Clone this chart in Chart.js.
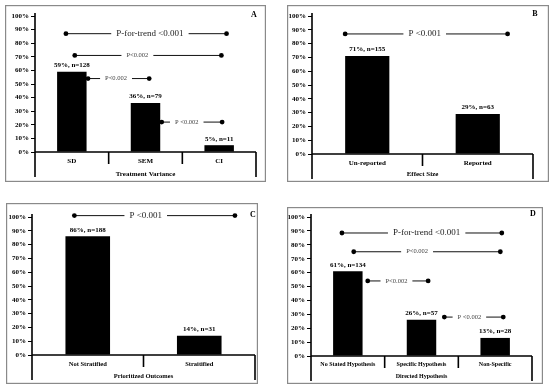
<!DOCTYPE html>
<html lang="en">
<head>
<meta charset="utf-8">
<title>Reporting panels</title>
<script src="https://cdn.jsdelivr.net/npm/chart.js@4.4.1/dist/chart.umd.min.js"></script>
<style>
  body { margin: 0; background: #fff; }
  canvas { position: absolute; }
</style>
</head>
<body>
<canvas id="pa"></canvas>
<canvas id="pb"></canvas>
<canvas id="pc"></canvas>
<canvas id="pd"></canvas>
<script>
// data
const catA = ['SD', 'SEM', 'CI'];
const pctA = [59, 36, 5];
const nA = [128, 79, 11];

const catB = ['Un-reported', 'Reported'];
const pctB = [71, 29];
const nB = [155, 63];

const catC = ['Not Stratified', 'Straitified'];
const pctC = [86, 14];
const nC = [188, 31];

const catD = ['No Stated Hypothesis', 'Specific Hypothesis', 'Non-Specific'];
const pctD = [61, 26, 13];
const nD = [134, 57, 28];

// comparisons: [from category, to category, level %, label, label centre]
const cmpA = [
  [-0.08, 2.10, 87, 'P-for-trend <0.001', 1.06],
  [0.04, 2.03, 71, 'P<0.002', 0.89],
  [0.22, 1.05, 54, 'P<0.002', 0.60],
  [1.22, 2.04, 22, 'P <0.002', 1.56]
];
const cmpB = [[-0.20, 1.27, 87, 'P <0.001', 0.52]];
const cmpC = [[-0.12, 1.32, 101, 'P <0.001', 0.52]];
const cmpD = [
  [-0.08, 2.09, 88.5, 'P-for-trend <0.001', 1.07],
  [0.08, 2.07, 75, 'P<0.002', 0.94],
  [0.27, 1.09, 54, 'P<0.002', 0.66],
  [1.31, 2.11, 28, 'P <0.002', 1.65]
];

const SERIF = '"Liberation Serif", "Times New Roman", serif';

function panel(id, box, area, letter, letterPos, title, labSize, cats, pcts, ns, cmps) {
  const cv = document.getElementById(id);
  const w = box.r - box.l, h = box.b - box.t;
  cv.width = w; cv.height = h;
  cv.style.left = box.l + 'px';
  cv.style.top = box.t + 'px';

  const deco = {
    id: 'deco',
    afterDraw(chart) {
      const c = chart.ctx, a = chart.chartArea;
      const xs = chart.scales.x, ys = chart.scales.y;
      c.save();
      // frame
      c.strokeStyle = '#8a8a8a';
      c.lineWidth = 1.2;
      c.strokeRect(0.6, 0.6, w - 1.2, h - 1.2);

      // axes
      c.strokeStyle = '#000';
      c.lineWidth = 1.6;
      c.beginPath();
      c.moveTo(a.left, a.top - 3);
      c.lineTo(a.left, a.bottom + 25);
      c.moveTo(a.left, a.bottom);
      c.lineTo(a.right, a.bottom);
      c.moveTo(a.right, a.bottom);
      c.lineTo(a.right, a.bottom + 25);
      for (let i = 1; i < cats.length; i++) {
        const x = xs.getPixelForValue(i - 0.5);
        c.moveTo(x, a.bottom);
        c.lineTo(x, a.bottom + 12);
      }
      c.stroke();

      // bar labels
      c.fillStyle = '#000';
      c.font = 'bold 7px ' + SERIF;
      c.textAlign = 'center';
      c.textBaseline = 'bottom';
      chart.getDatasetMeta(0).data.forEach((bar, i) => {
        c.fillText(pcts[i] + '%, n=' + ns[i], bar.x, bar.y - 3);
      });

      // comparison brackets
      c.textBaseline = 'middle';
      c.lineWidth = 1;
      cmps.forEach(([f, t, lvl, txt, mid]) => {
        const big = txt.indexOf('0.001') >= 0;
        const x1 = xs.getPixelForValue(f), x2 = xs.getPixelForValue(t);
        const xm = xs.getPixelForValue(mid);
        const y = ys.getPixelForValue(lvl);
        c.font = (big ? 9 : 6.5) + 'px ' + SERIF;
        c.fillStyle = big ? '#222' : '#444';
        const tw = c.measureText(txt).width;
        c.fillText(txt, xm, y);
        c.strokeStyle = '#111';
        c.beginPath();
        c.moveTo(x1, y); c.lineTo(xm - tw / 2 - 5, y);
        c.moveTo(xm + tw / 2 + 5, y); c.lineTo(x2, y);
        c.stroke();
        c.fillStyle = '#000';
        [x1, x2].forEach(x => {
          c.beginPath();
          c.arc(x, y, 2.4, 0, Math.PI * 2);
          c.fill();
        });
      });

      // panel letter
      c.font = 'bold 8px ' + SERIF;
      c.textBaseline = 'middle';
      c.fillText(letter, letterPos[0], letterPos[1]);
      c.restore();
    }
  };

  return new Chart(cv.getContext('2d'), {
    type: 'bar',
    data: {
      labels: cats,
      datasets: [{
        data: pcts,
        backgroundColor: '#000',
        borderWidth: 0,
        barPercentage: 0.4,
        categoryPercentage: 1
      }]
    },
    options: {
      responsive: false,
      animation: false,
      layout: { padding: { top: area.t - box.t, right: box.r - area.r, left: 0, bottom: 0 } },
      plugins: { legend: { display: false }, tooltip: { enabled: false } },
      scales: {
        x: {
          offset: true,
          grid: { display: false, drawTicks: false },
          border: { display: false },
          ticks: {
            color: '#000', padding: 5, maxRotation: 0, autoSkip: false,
            font: { family: SERIF, size: labSize, weight: 'bold' }
          },
          title: {
            display: true, text: title, color: '#000',
            padding: { top: 0, bottom: 4 },
            font: { family: SERIF, size: labSize, weight: 'bold' }
          },
          afterFit(s) { s.height = box.b - area.b; }
        },
        y: {
          min: 0, max: 100,
          grid: { drawOnChartArea: false, drawTicks: true, tickLength: 4, color: '#000', lineWidth: 1 },
          border: { display: false },
          ticks: {
            stepSize: 10, padding: 2, color: '#000',
            font: { family: SERIF, size: 7, weight: 'bold' },
            callback: v => v + '%'
          },
          afterFit(s) { s.width = area.l - box.l; }
        }
      }
    },
    plugins: [deco]
  });
}

panel('pa', {l: 5, t: 5, r: 266, b: 182}, {l: 35, t: 16, r: 256, b: 152},
  'A', [249, 10], 'Treatment Variance', 7, catA, pctA, nA, cmpA);
panel('pb', {l: 287, t: 5, r: 549, b: 182}, {l: 312, t: 16, r: 533, b: 154},
  'B', [248, 9], 'Effect Size', 7, catB, pctB, nB, cmpB);
panel('pc', {l: 6, t: 203, r: 258, b: 384}, {l: 32, t: 217, r: 255, b: 355},
  'C', [247, 12], 'Prioritized Outcomes', 6.5, catC, pctC, nC, cmpC);
panel('pd', {l: 287, t: 207, r: 543, b: 384}, {l: 311, t: 217, r: 532, b: 356},
  'D', [246, 7], 'Directed Hypothesis', 6, catD, pctD, nD, cmpD);
</script>
</body>
</html>
